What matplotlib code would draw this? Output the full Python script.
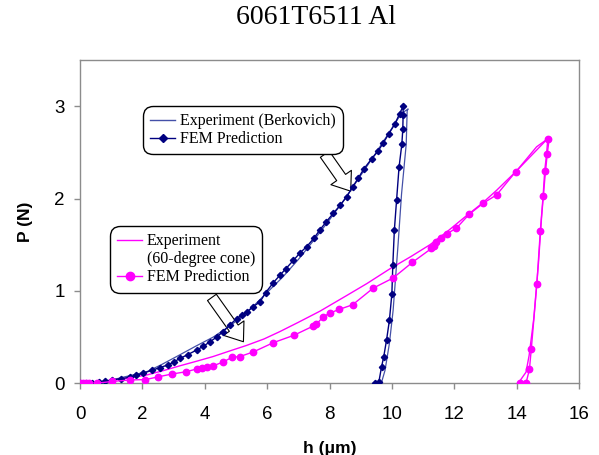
import matplotlib
matplotlib.use("Agg")
import matplotlib.pyplot as plt
from matplotlib.lines import Line2D
from matplotlib.patches import FancyArrowPatch

# ---------------- data ----------------
berk_exp_h = [0.0, 0.5, 1.0, 1.5, 2.14, 2.6, 3.21, 3.7, 4.27, 4.8, 5.34, 5.9, 6.5, 7.0, 7.5,
              8.0, 8.5, 9.0, 9.5, 10.0, 10.3, 10.52,
              10.49, 10.46, 10.31, 10.2, 10.12, 10.04, 9.92, 9.78, 9.66]
berk_exp_P = [0.0, 0.008, 0.035, 0.075, 0.125, 0.2, 0.31, 0.4, 0.5, 0.62, 0.76, 0.95, 1.15, 1.34, 1.55,
              1.77, 2.0, 2.25, 2.5, 2.76, 2.92, 2.97,
              2.95, 2.59, 2.05, 1.51, 1.15, 0.79, 0.43, 0.14, 0.0]

berk_fem_h = [0.0, 0.2, 0.4, 0.6, 0.8, 1.02, 1.3, 1.6, 1.8, 2.03, 2.3, 2.56, 2.83, 3.0, 3.21,
              3.45, 3.74, 3.95, 4.17, 4.38, 4.59, 4.8, 5.02, 5.2, 5.34, 5.55, 5.77, 5.95,
              6.2, 6.41, 6.6, 6.84, 7.05, 7.27, 7.5, 7.69, 7.9, 8.12, 8.35, 8.55, 8.75,
              8.92, 9.1, 9.35, 9.55, 9.72, 9.9, 10.1, 10.25, 10.36,
              10.36, 10.35, 10.32, 10.23, 10.15, 10.08, 10.03, 10.0, 9.92, 9.83, 9.74,
              9.67, 9.58, 9.45]
berk_fem_P = [0.0, 0.0, 0.005, 0.01, 0.02, 0.036, 0.05, 0.065, 0.085, 0.11, 0.14, 0.17, 0.2, 0.23, 0.27,
              0.31, 0.36, 0.4, 0.45, 0.5, 0.56, 0.63, 0.7, 0.74, 0.77, 0.83, 0.88, 0.98,
              1.09, 1.17, 1.24, 1.33, 1.41, 1.48, 1.57, 1.66, 1.75, 1.84, 1.93, 2.02, 2.13,
              2.22, 2.32, 2.43, 2.51, 2.6, 2.7, 2.81, 2.92, 3.0,
              2.9, 2.75, 2.59, 2.34, 1.98, 1.66, 1.28, 0.97, 0.68, 0.47, 0.29,
              0.18, 0.01, 0.0]

cone_exp_h = [0.0, 0.5, 1.07, 1.6, 2.14, 2.7, 3.21, 3.75, 4.27, 4.8, 5.34, 5.9, 6.41, 7.0, 7.69,
              8.55, 9.2, 9.94, 10.6, 11.22, 11.8, 12.34, 12.9, 13.36, 14.0, 14.64, 15.05,
              14.98, 14.9, 14.8, 14.7, 14.55, 14.4, 14.3, 14.05]
cone_exp_P = [0.0, 0.01, 0.036, 0.06, 0.09, 0.14, 0.19, 0.24, 0.29, 0.35, 0.41, 0.48, 0.56, 0.66, 0.78,
              0.95, 1.08, 1.24, 1.37, 1.5, 1.65, 1.8, 1.95, 2.09, 2.3, 2.56, 2.66,
              2.48, 2.2, 1.8, 1.3, 0.7, 0.3, 0.12, 0.0]

cone_fem_h = [0.0, 0.1, 0.2, 0.3, 0.53, 1.02, 1.6, 2.1, 2.51, 2.94, 3.4, 3.74, 3.9, 4.06, 4.27,
              4.59, 4.86, 5.13, 5.56, 6.2, 6.86, 7.48, 7.58, 7.8, 8.01, 8.31, 8.74, 9.4,
              10.04, 10.66, 11.27, 11.35, 11.43, 11.56, 11.77, 12.07, 12.48, 12.93, 13.36,
              13.97, 15.0,
              14.96, 14.9, 14.85, 14.76, 14.65, 14.47, 14.41, 14.3, 14.1]
cone_fem_P = [0.0, 0.0, 0.0, 0.0, 0.0, 0.02, 0.036, 0.04, 0.07, 0.1, 0.125, 0.155, 0.17, 0.18, 0.19,
              0.23, 0.28, 0.29, 0.34, 0.44, 0.52, 0.62, 0.64, 0.72, 0.76, 0.8, 0.85, 1.03,
              1.14, 1.31, 1.46, 1.49, 1.53, 1.57, 1.62, 1.68, 1.83, 1.95, 2.04,
              2.29, 2.65,
              2.48, 2.3, 2.03, 1.65, 1.08, 0.37, 0.15, 0.0, 0.0]

title = "6061T6511 Al"
x_ticks = [0, 2, 4, 6, 8, 10, 12, 14, 16]
y_ticks = [0, 1, 2, 3]

# ---------------- figure ----------------
NAVY = "#000080"
NAVY_EXP = "#4450a8"
MAG = "#ff00ff"
GRAY = "#8c8c8c"

fig = plt.figure(figsize=(5.99, 4.55), dpi=100)
ax = fig.add_axes([80 / 599, 1 - 383.3 / 455, 499 / 599, 323.3 / 455])

ax.plot(berk_exp_h, berk_exp_P, color=NAVY_EXP, lw=0.9, zorder=3)
ax.plot(berk_fem_h, berk_fem_P, color=NAVY, lw=1.0, marker="D", ms=3.2, zorder=4)
ax.plot(cone_exp_h, cone_exp_P, color=MAG, lw=1.0, zorder=3)
ax.plot(cone_fem_h, cone_fem_P, color=MAG, lw=1.0, marker="o", ms=4.6, zorder=4)

ax.set_xlim(0, 16)
ax.set_ylim(0, 3.5)
ax.set_xticks(x_ticks)
ax.set_yticks(y_ticks)
ax.set_xticklabels([str(t) for t in x_ticks], family="Liberation Sans", fontsize=13.5)
ax.set_yticklabels([str(t) for t in y_ticks], family="Liberation Sans", fontsize=13.5)
ax.tick_params(direction="out", length=4, width=1, color=GRAY)
ax.tick_params(axis="x", pad=12)
ax.tick_params(axis="y", pad=7)
for s in ax.spines.values():
    s.set_color(GRAY)
    s.set_linewidth(1.0)

ax.set_xlabel("h (\u03bcm)", family="Liberation Sans", fontsize=12.5, fontweight="bold", labelpad=13)
ax.set_ylabel("P (N)", family="Liberation Sans", fontsize=12.5, fontweight="bold", labelpad=15)

fig.text(316 / 599, 1 - 18 / 455, title, ha="center", va="center",
         family="Liberation Serif", fontsize=20)

# arrows
for (t, h) in [((7.85, 2.48), (8.68, 2.08)), ((4.23, 0.93), (5.24, 0.45))]:
    arr = FancyArrowPatch(t, h, arrowstyle="simple,head_length=1.0,head_width=1.5,tail_width=0.65",
                          mutation_scale=12, fc="white", ec="black", lw=0.8,
                          shrinkA=0, shrinkB=0, zorder=2)
    ax.add_patch(arr)

# legends
leg_font = {"family": "Liberation Serif", "size": 11.5}
common = dict(prop=leg_font, loc="upper left", bbox_transform=fig.transFigure, borderaxespad=0,
              handlelength=1.55, handletextpad=0.3, borderpad=0.45, labelspacing=0.13,
              frameon=True, fancybox=True, framealpha=1, edgecolor="black")
h1 = [Line2D([], [], color=NAVY_EXP, lw=1.0),
      Line2D([], [], color=NAVY, lw=1.0, marker="D", ms=4)]
leg1 = ax.legend(h1, ["Experiment (Berkovich)", "FEM Prediction"],
                 bbox_to_anchor=(143 / 599, 1 - 106 / 455), **common)
leg1.get_frame().set_linewidth(1.0)
leg1.get_frame().set_boxstyle("round,pad=0,rounding_size=0.6")
ax.add_artist(leg1)

h2 = [Line2D([], [], color=MAG, lw=1.0),
      Line2D([], [], color="none", lw=0),
      Line2D([], [], color=MAG, lw=1.0, marker="o", ms=6)]
leg2 = ax.legend(h2, ["Experiment", "(60-degree cone)", "FEM Prediction"],
                 bbox_to_anchor=(110 / 599, 1 - 226 / 455), **common)
leg2.get_frame().set_linewidth(1.0)
leg2.get_frame().set_boxstyle("round,pad=0,rounding_size=0.6")

fig.savefig("out.png", dpi=100)
